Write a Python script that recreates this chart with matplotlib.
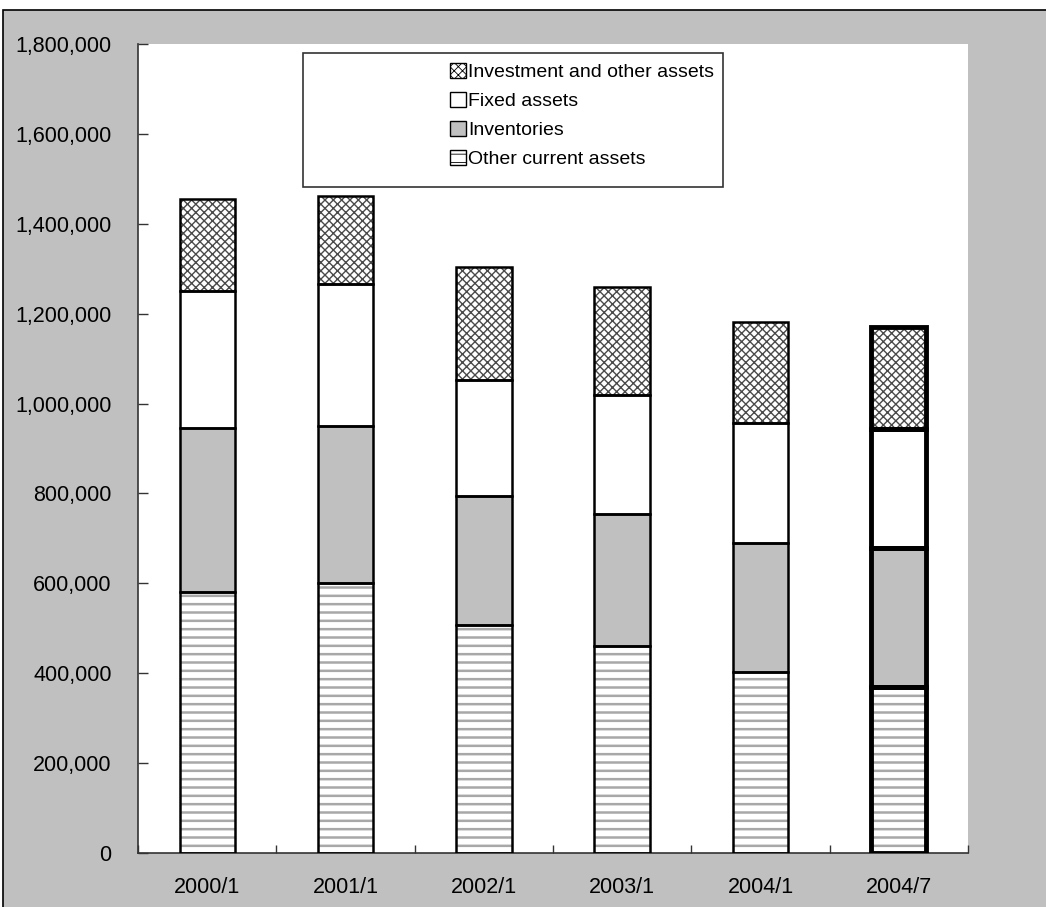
import matplotlib
matplotlib.use("Agg")
import matplotlib.pyplot as plt
from matplotlib.patches import Rectangle, Patch
from matplotlib.ticker import FuncFormatter, FixedLocator
import numpy as np

categories = ["2000/1", "2001/1", "2002/1", "2003/1", "2004/1", "2004/7"]
other_current = [581000, 601000, 507000, 461000, 403000, 370000]
inventories = [365000, 349000, 287000, 293000, 287000, 309000]
fixed_assets = [304000, 316000, 258000, 265000, 267000, 264000]
investment = [205000, 196000, 252000, 240000, 224000, 227000]

series_names = ["Other current assets", "Inventories", "Fixed assets", "Investment and other assets"]
series_vals = [other_current, inventories, fixed_assets, investment]
face = ["white", "#c0c0c0", "white", "white"]
hatch = ["--", None, None, "xxxx"]
hatch_col = ["#a8a8a8", None, None, "#4a4a4a"]

plt.rcParams['font.family'] = ['Liberation Sans', 'DejaVu Sans']
plt.rcParams['hatch.linewidth'] = 1.6

W, H = 1046, 907
fig = plt.figure(figsize=(W / 100, H / 100), dpi=100)
fig.patch.set_facecolor("white")
bg = Rectangle((3 / W, -0.1), 1.2, (H - 10) / H + 0.1, transform=fig.transFigure,
               facecolor="#c0c0c0", edgecolor="black", linewidth=1.2, zorder=-5)
fig.patches.append(bg)

ax = fig.add_axes([138 / W, (H - 853) / H, (968 - 138) / W, (853 - 44) / H])
ax.set_facecolor("white")
ax.set_zorder(1)

x = np.arange(len(categories))
width = 0.4
bottom = np.zeros(len(categories))
for i, (name, vals) in enumerate(zip(series_names, series_vals)):
    vals = np.array(vals, dtype=float)
    if hatch[i]:
        plt.rcParams['hatch.linewidth'] = 1.8 if i == 0 else 1.0
        ax.bar(x, vals, width, bottom=bottom, color=face[i], hatch=hatch[i],
               edgecolor=hatch_col[i], linewidth=0, zorder=2)
    else:
        ax.bar(x, vals, width, bottom=bottom, color=face[i], linewidth=0, zorder=2)
    lws = [1.8] * (len(categories) - 1) + [3.5]
    ax.bar(x, vals, width, bottom=bottom, fill=False, edgecolor="black",
           linewidth=lws, zorder=3)
    bottom += vals

ax.set_xlim(-0.5, len(categories) - 0.5)
ax.set_ylim(0, 1800000)
ax.yaxis.set_major_locator(FixedLocator(np.arange(0, 1800001, 200000)))
ax.yaxis.set_major_formatter(FuncFormatter(lambda v, p: f"{int(v):,}"))
ax.set_xticks(x)
ax.set_xticklabels(categories)
ax.xaxis.set_minor_locator(FixedLocator(np.arange(-0.5, len(categories), 1.0)))
ax.tick_params(axis='x', which='major', length=0, pad=17, labelsize=15.5)
ax.tick_params(axis='x', which='minor', direction='in', length=6, width=1, color="#333333")
ax.tick_params(axis='y', direction='in', length=7, width=1, pad=19, labelsize=15.5, color="#333333")
for s in ["top", "right"]:
    ax.spines[s].set_visible(False)
for s in ["left", "bottom"]:
    ax.spines[s].set_color("#333333")
    ax.spines[s].set_linewidth(1.2)

# legend box
lbox = Rectangle((303 / W, (H - 187) / H), (723 - 303) / W, (187 - 53) / H,
                 transform=fig.transFigure, facecolor="white",
                 edgecolor="#333333", linewidth=1.2, zorder=5)
fig.patches.append(lbox)
handles = []
for i in [3, 2, 1, 0]:
    handles.append(Patch(facecolor=face[i], edgecolor="black", hatch=hatch[i] if hatch[i] else None,
                         linewidth=1.0, label=series_names[i]))
plt.rcParams['hatch.linewidth'] = 0.6
leg = fig.legend(handles=handles, loc="upper left", bbox_to_anchor=(450 / W, (H - 63) / H),
                 frameon=False, fontsize=14, handlelength=0.8, handleheight=0.8,
                 handletextpad=0.15, labelspacing=0.56, borderpad=0.0, borderaxespad=0)
leg.set_zorder(6)

fig.savefig("out.png", dpi=100, facecolor="white")
